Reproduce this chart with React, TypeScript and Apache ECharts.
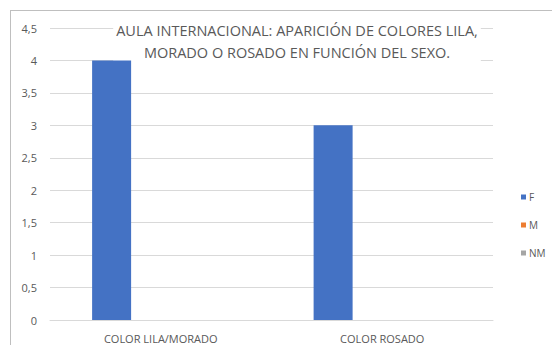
import React, { useEffect, useRef } from "react";
import * as echarts from "echarts";

const categories = ["COLOR LILA/MORADO", "COLOR ROSADO"];
const seriesNames = ["F", "M", "NM"];
const valuesF = [4, 3];
const valuesM = [0, 0];
const valuesNM = [0, 0];
const colors = ["#4472C4", "#ED7D31", "#A5A5A5"];
const titleText = "AULA INTERNACIONAL: APARICIÓN DE COLORES LILA,\nMORADO O ROSADO EN FUNCIÓN DEL SEXO.";

export default function App() {
  const ref = useRef<HTMLDivElement>(null);
  useEffect(() => {
    document.body.style.margin = "0";
    const chart = echarts.init(ref.current!, null, { renderer: "svg" });
    const data = [valuesF, valuesM, valuesNM];
    chart.setOption({
      animation: false,
      backgroundColor: "#ffffff",
      color: colors,
      title: {
        text: titleText,
        left: 294,
        top: 19,
        textAlign: "center",
        backgroundColor: "#ffffff",
        padding: [0, 3, 0, 3],
        z: 6,
        textStyle: {
          fontFamily: "Open Sans",
          fontSize: 14.5,
          fontWeight: "normal",
          color: "#595959",
          lineHeight: 22,
          letterSpacing: -0.1,
        },
      },
      legend: {
        orient: "vertical",
        left: 516,
        top: 187,
        itemWidth: 5,
        itemHeight: 5,
        itemGap: 18,
        icon: "rect",
        textStyle: { fontFamily: "Open Sans", fontSize: 10, color: "#595959", padding: [0, 0, 0, -2] },
        data: seriesNames,
      },
      grid: { left: 50, right: 59, top: 28, bottom: 25, containLabel: false },
      xAxis: {
        type: "category",
        data: categories,
        axisLine: { show: true, lineStyle: { color: "#d9d9d9" } },
        axisTick: { show: false },
        axisLabel: { fontFamily: "Open Sans", fontSize: 11, color: "#595959", margin: 13, letterSpacing: -0.2 },
      },
      yAxis: {
        type: "value",
        min: 0,
        max: 4.5,
        interval: 0.5,
        axisLine: { show: false },
        axisTick: { show: false },
        splitLine: { lineStyle: { color: "#d9d9d9" } },
        axisLabel: {
          fontFamily: "Open Sans",
          fontSize: 11,
          color: "#595959",
          margin: 13,
          formatter: (v: number) => String(v).replace(".", ","),
        },
      },
      series: seriesNames.map((n, i) => ({
        name: n,
        type: "bar",
        data: data[i],
        barWidth: 39,
        barGap: "26%",
        itemStyle: { color: colors[i] },
        z: 10,
      })),
      graphic: [
        { type: "line", shape: { x1: 10, y1: 10.5, x2: 552, y2: 10.5 }, style: { stroke: "#bfbfbf", lineWidth: 1 } },
        { type: "line", shape: { x1: 10.5, y1: 10, x2: 10.5, y2: 345 }, style: { stroke: "#bfbfbf", lineWidth: 1 } },
      ],
    });
    return () => chart.dispose();
  }, []);
  return <div ref={ref} style={{ width: 552, height: 345 }} />;
}
